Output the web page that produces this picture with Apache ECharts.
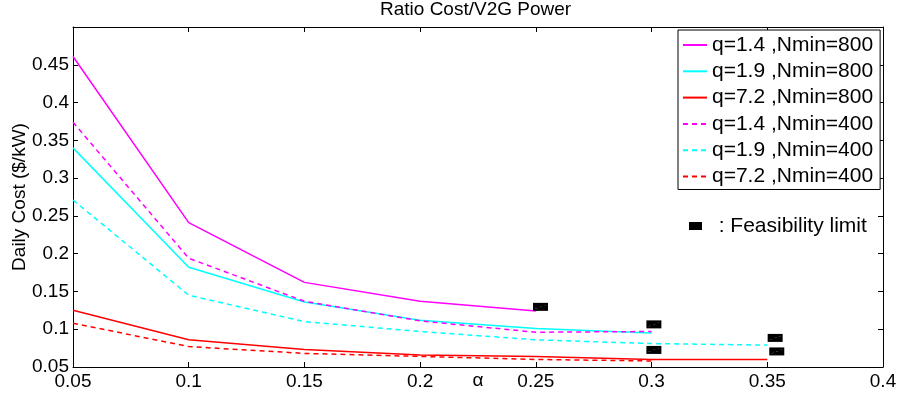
<!DOCTYPE html>
<html><head><meta charset="utf-8">
<script src="https://cdn.jsdelivr.net/npm/echarts@6/dist/echarts.min.js"></script>
<style>html,body{margin:0;padding:0;background:#fff}#c{width:902px;height:396px}</style>
</head><body><div id="c"></div>
<script>
// categories (alpha values)
const alpha = [0.05, 0.1, 0.15, 0.2, 0.25, 0.3, 0.35];
// series values
const q14_800 = [0.461, 0.241, 0.162, 0.137, 0.124];
const q19_800 = [0.340, 0.182, 0.136, 0.112, 0.101, 0.095];
const q72_800 = [0.125, 0.086, 0.073, 0.066, 0.064, 0.060, 0.060];
const q14_400 = [0.374, 0.194, 0.137, 0.111, 0.096, 0.097];
const q19_400 = [0.271, 0.145, 0.110, 0.097, 0.086, 0.081, 0.079];
const q72_400 = [0.108, 0.077, 0.068, 0.064, 0.060, 0.058];
const seriesNames = ['q=1.4 ,Nmin=800','q=1.9 ,Nmin=800','q=7.2 ,Nmin=800','q=1.4 ,Nmin=400','q=1.9 ,Nmin=400','q=7.2 ,Nmin=400'];
// feasibility limit markers
const feasX = [0.252, 0.301, 0.301, 0.3534, 0.3541];
const feasY = [0.1296, 0.1064, 0.0726, 0.0885, 0.0706];
const feasName = 'Feasibility limit';
// axis
const xMin = 0.05, xMax = 0.4, xStep = 0.05;
const yMin = 0.05, yMax = 0.5, yStep = 0.05;

const FONT = 'Liberation Sans, Arial, Helvetica, sans-serif';
const fmt = v => String(parseFloat(v.toFixed(2)));
const pairs = ys => ys.map((y, i) => [alpha[i], y]);

const lineDefs = [
  [q14_800, '#ff00ff', 'solid'],
  [q19_800, '#00ffff', 'solid'],
  [q72_800, '#ff0000', 'solid'],
  [q14_400, '#ff00ff', [5, 4]],
  [q19_400, '#00ffff', [5, 4]],
  [q72_400, '#ff0000', [5, 4]]
];

const series = lineDefs.map((d, i) => ({
  name: seriesNames[i], type: 'line', data: pairs(d[0]),
  xAxisIndex: 0, yAxisIndex: 0,
  symbol: 'none', showSymbol: false,
  lineStyle: { color: d[1], width: 1.5, type: d[2] },
  itemStyle: { color: d[1] },
  emphasis: { disabled: true }
}));
series.push({
  name: feasName, type: 'scatter', data: feasX.map((x, i) => [x, feasY[i]]),
  symbol: 'rect', symbolSize: [15, 8],
  itemStyle: { color: '#000', opacity: 1 }, z: 5, emphasis: { disabled: true }
});
series.push({
  name: 'diag', type: 'scatter', data: feasX.map((x, i) => [x, feasY[i]]),
  symbol: 'path://M0,8 L15,0', symbolSize: [11, 4],
  itemStyle: { color: 'none', opacity: 1, borderColor: '#555', borderWidth: 0.7, borderType: [2, 2] },
  z: 6, silent: true, emphasis: { disabled: true }
});

const tickStyle = { show: true, inside: true, length: 5, lineStyle: { color: '#000', width: 1 } };
const lineStyleAxis = { show: true, onZero: false, lineStyle: { color: '#000', width: 1 } };

const option = {
  animation: false,
  backgroundColor: '#fff',
  textStyle: { fontFamily: FONT },
  title: {
    text: 'Ratio Cost/V2G Power', left: 380, top: 0, padding: 0,
    textStyle: { fontFamily: FONT, fontSize: 19, fontWeight: 'normal', color: '#000' }
  },
  grid: { left: 73, right: 19, top: 27, bottom: 29, containLabel: false, outerBoundsMode: 'none' },
  legend: [{
    data: seriesNames, orient: 'vertical', left: 678, top: 30,
    padding: [4, 7, 2, 4], itemGap: 4.3, itemWidth: 24, itemHeight: 14,
    borderColor: '#000', borderWidth: 1, backgroundColor: '#fff',
    selectedMode: false,
    itemStyle: { opacity: 0, borderWidth: 0 },
    textStyle: { fontFamily: FONT, fontSize: 21, color: '#000', lineHeight: 22 }
  }, {
    data: [{ name: feasName, icon: 'rect' }], left: 689, top: 215, padding: 0,
    itemWidth: 13, itemHeight: 8, selectedMode: false,
    itemStyle: { color: '#000', opacity: 1 },
    formatter: () => '  : Feasibility limit',
    textStyle: { fontFamily: FONT, fontSize: 21, color: '#000', lineHeight: 22 }
  }],
  xAxis: [{
    type: 'value', min: xMin, max: xMax, interval: xStep, position: 'bottom',
    axisLine: lineStyleAxis, axisTick: tickStyle, splitLine: { show: false },
    axisLabel: { fontFamily: FONT, fontSize: 19, color: '#000', margin: 5, formatter: fmt },
    name: 'α', nameLocation: 'middle', nameGap: 4, nameMoveOverlap: false,
    nameTextStyle: { fontFamily: FONT, fontSize: 19, color: '#000' }
  }, {
    type: 'value', min: xMin, max: xMax, interval: xStep, position: 'top',
    axisLine: lineStyleAxis, axisTick: tickStyle, splitLine: { show: false },
    axisLabel: { show: false }
  }],
  yAxis: [{
    type: 'value', min: yMin, max: yMax, interval: yStep, position: 'left',
    axisLine: lineStyleAxis, axisTick: tickStyle, splitLine: { show: false },
    axisLabel: { fontFamily: FONT, fontSize: 19, color: '#000', margin: 4,
      formatter: v => (v > 0.49 ? '' : fmt(v)) },
    name: 'Daily Cost ($/kW)', nameLocation: 'middle', nameGap: 44, nameRotate: 90,
    nameMoveOverlap: false,
    nameTextStyle: { fontFamily: FONT, fontSize: 19, color: '#000' }
  }, {
    type: 'value', min: yMin, max: yMax, interval: yStep, position: 'right',
    axisLine: lineStyleAxis, axisTick: tickStyle, splitLine: { show: false },
    axisLabel: { show: false }
  }],
  series: series
};

const chart = echarts.init(document.getElementById('c'), null, { renderer: 'canvas' });
chart.setOption(option);
</script>
</body></html>
